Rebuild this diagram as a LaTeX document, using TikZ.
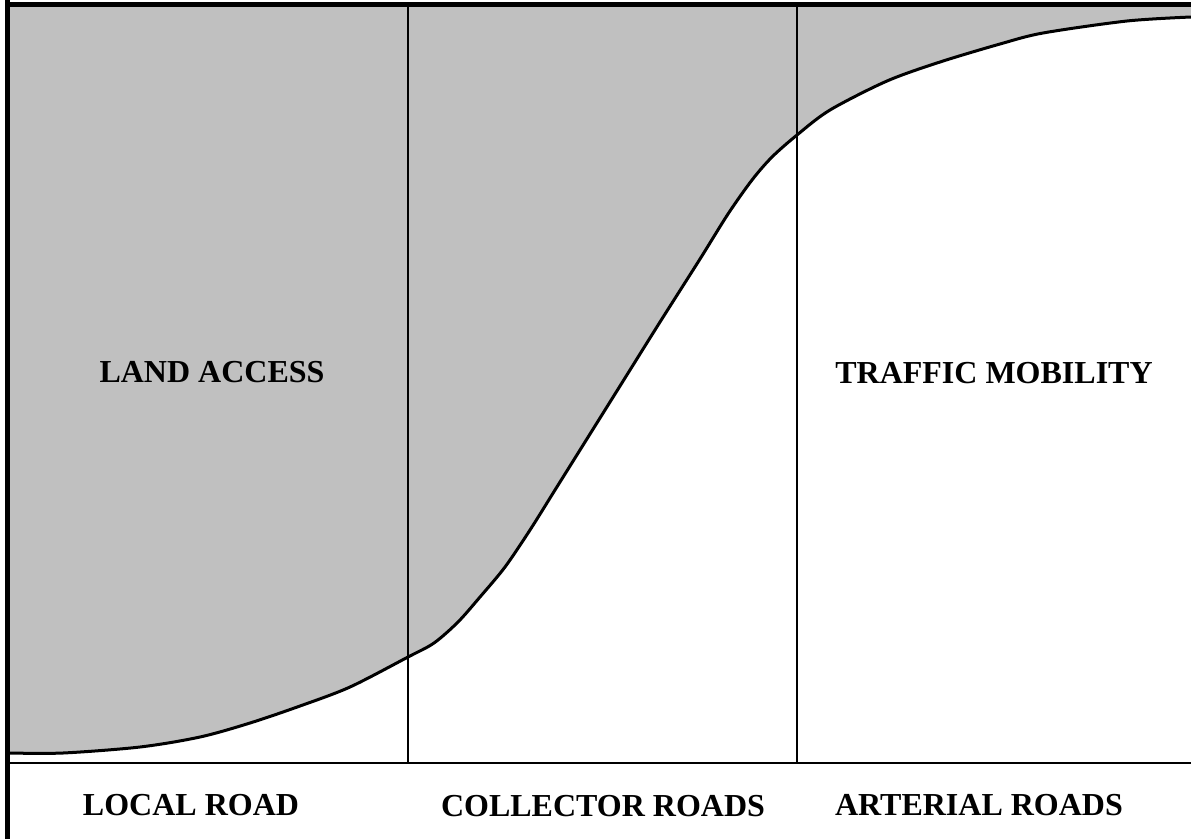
\documentclass[tikz,border=0pt]{standalone}
\usepackage{fontspec}
\setmainfont{Liberation Serif}
\definecolor{areagrey}{HTML}{C0C0C0}
\begin{document}
\begin{tikzpicture}[x=1pt,y=-1pt,
  lbl/.style={anchor=base,inner sep=0pt,font=\fontsize{32}{38}\selectfont\bfseries},
  thin rule/.style={line width=2pt},
  heavy rule/.style={line width=5pt},
  curve/.style={line width=3pt,line join=round}]
\useasboundingbox (0,0) rectangle (1191,839);
% shaded area above the curve
\fill[areagrey] (10,7) -- plot[smooth,tension=0.5] coordinates {(10,753) (63,753) (140,747) (200,737) (250,723) (300,706) (350,687) (408,657) (434,643) (458,622) (480,597) (505,567) (530,530) (555,490) (580,450) (620,386) (660,322) (700,259) (728,214) (752,180) (772,157) (797,135) (830,110) (887,81) (940,62) (1000,44) (1043,33) (1127,21) (1191,17)} -- (1191,7) -- cycle;
% frame rules
\draw[heavy rule] (7.5,0) -- (7.5,839);
\draw[heavy rule] (5,4.5) -- (1191,4.5);
\draw[thin rule] (10,763) -- (1191,763);
\draw[thin rule] (408,7) -- (408,763);
\draw[thin rule] (797,7) -- (797,763);
% curve
\draw[curve] plot[smooth,tension=0.5] coordinates {(10,753) (63,753) (140,747) (200,737) (250,723) (300,706) (350,687) (408,657) (434,643) (458,622) (480,597) (505,567) (530,530) (555,490) (580,450) (620,386) (660,322) (700,259) (728,214) (752,180) (772,157) (797,135) (830,110) (887,81) (940,62) (1000,44) (1043,33) (1127,21) (1191,17)};
% labels
\node[lbl] (land) at (212,382) {LAND ACCESS};
\node[lbl] (traffic) at (994,383) {TRAFFIC MOBILITY};
\node[lbl] (local) at (191,815) {LOCAL ROAD};
\node[lbl] (collector) at (603,816) {COLLECTOR ROADS};
\node[lbl] (arterial) at (979,815) {ARTERIAL ROADS};
\end{tikzpicture}
\end{document}
